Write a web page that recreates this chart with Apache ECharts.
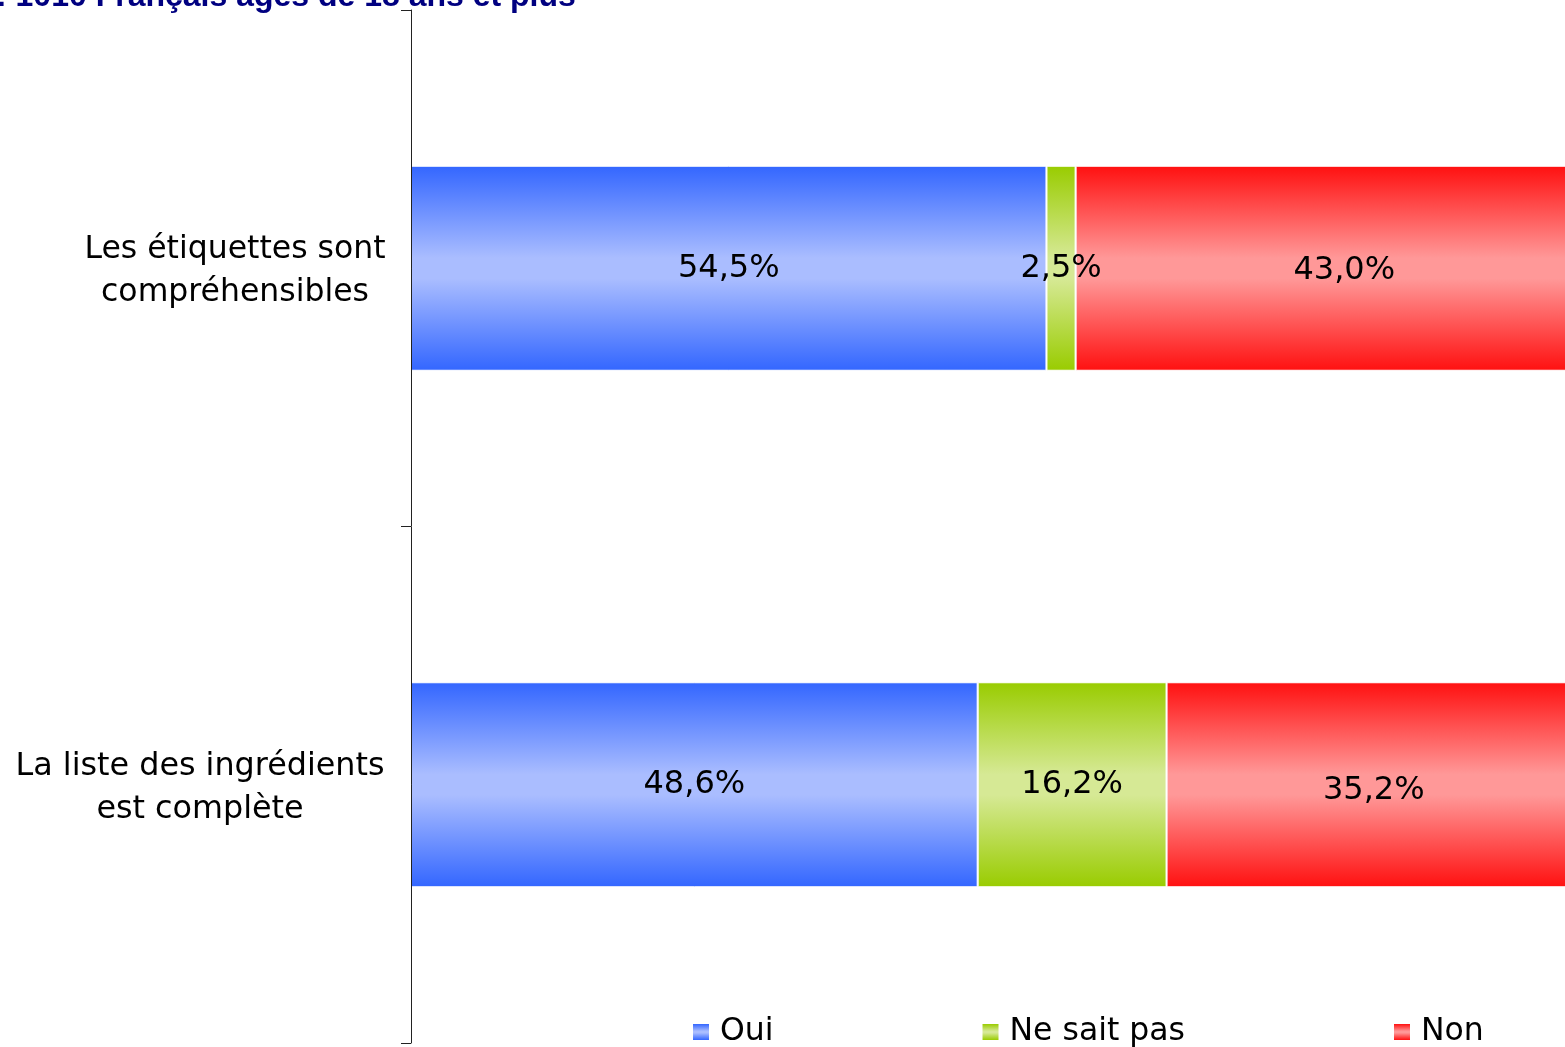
<!DOCTYPE html>
<html>
<head>
<meta charset="utf-8">
<script src="https://cdn.jsdelivr.net/npm/echarts@6/dist/echarts.min.js"></script>
<style>
html,body{margin:0;padding:0;background:#fff;}
#chart{width:1565px;height:1047px;}
</style>
</head>
<body>
<div id="chart"></div>
<script>
const categories = ['Les étiquettes sont\ncompréhensibles', 'La liste des ingrédients\nest complète'];
const seriesNames = ['Oui', 'Ne sait pas', 'Non'];
const ouiValues = [54.5, 48.6];
const nspValues = [2.5, 16.2];
const nonValues = [43.0, 35.2];
const titleText = ': 1010 Français âgés de 18 ans et plus';

const FONT = '"DejaVu Sans", Verdana, sans-serif';
const colorPairs = [['#3366ff', '#aabdff'], ['#99cc00', '#d6e995'], ['#ff1010', '#ff9898']];
function grad(pair) {
  return new echarts.graphic.LinearGradient(0, 0, 0, 1, [
    {offset: 0, color: pair[0]},
    {offset: 0.45, color: pair[1]},
    {offset: 0.55, color: pair[1]},
    {offset: 1, color: pair[0]}
  ]);
}
// per-item label nudges (style only)
const labelOffsets = [[[0,0],[0,0]], [[0,0],[0,0]], [[18,2],[2,6]]];
const allValues = [ouiValues, nspValues, nonValues];

const series = allValues.map((vals, si) => ({
  name: seriesNames[si],
  type: 'bar',
  stack: 'total',
  barWidth: 205,
  itemStyle: {color: grad(colorPairs[si]), borderColor: '#ffffff', borderWidth: 1},
  label: {
    show: true,
    position: 'inside',
    fontFamily: FONT,
    fontSize: 32,
    color: '#000',
    formatter: p => p.value.toFixed(1).replace('.', ',') + '%'
  },
  data: vals.map((v, i) => ({value: v, label: {offset: labelOffsets[si][i]}}))
}));

const chart = echarts.init(document.getElementById('chart'), null, {renderer: 'canvas'});
chart.setOption({
  animation: false,
  backgroundColor: '#ffffff',
  graphic: [{
    type: 'text',
    x: -4,
    y: -3,
    style: {
      text: titleText,
      font: 'bold 32px "Liberation Sans", Arial, sans-serif',
      fill: '#000080',
      verticalAlign: 'middle'
    }
  }],
  legend: {
    left: 693,
    top: 1016,
    padding: 0,
    itemGap: 209,
    itemWidth: 16,
    itemHeight: 16,
    icon: 'rect',
    itemStyle: {borderWidth: 0},
    textStyle: {fontFamily: FONT, fontSize: 31.5, color: '#000', padding: [0, 0, 0, 6]},
    data: seriesNames
  },
  grid: {left: 411, top: 10, width: 1166, bottom: 4, containLabel: false, outerBoundsMode: 'none'},
  xAxis: {
    type: 'value', min: 0, max: 100, show: false
  },
  yAxis: {
    type: 'category',
    inverse: true,
    z: 5,
    data: categories,
    axisLine: {show: true, lineStyle: {color: '#222', width: 1}},
    axisTick: {show: true, length: 10, lineStyle: {color: '#222'}},
    axisLabel: {
      margin: 25,
      fontFamily: FONT,
      fontSize: 31.5,
      color: '#000',
      lineHeight: 43,
      padding: [7, 0, 0, 0],
      formatter: (v, idx) => v.split('\n').map(l => '{c' + idx + '|' + l + '}').join('\n'),
      rich: {
        c0: {width: 302, align: 'center', fontFamily: FONT, fontSize: 31.5, lineHeight: 43, color: '#000'},
        c1: {width: 372, align: 'center', fontFamily: FONT, fontSize: 31.8, lineHeight: 43, color: '#000'}
      }
    },
    splitLine: {show: false}
  },
  series: series
});
</script>
</body>
</html>
